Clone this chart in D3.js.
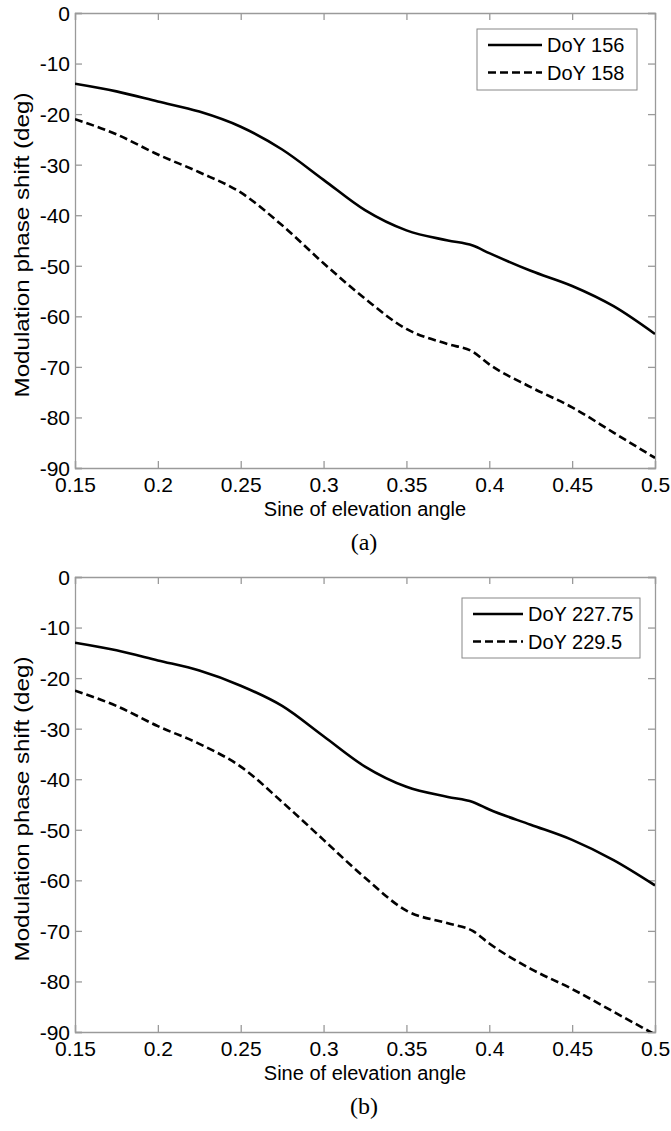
<!DOCTYPE html>
<html><head><meta charset="utf-8">
<script src="https://cdn.jsdelivr.net/npm/d3@7"></script>
<style>body{margin:0;background:#fff}svg{display:block}</style>
</head><body>
<script>
// ---------- data ----------
const xTicks = [0.15, 0.2, 0.25, 0.3, 0.35, 0.4, 0.45, 0.5];
const yTicks = [0, -10, -20, -30, -40, -50, -60, -70, -80, -90];
const sineElev = [0.15, 0.175, 0.2, 0.225, 0.25, 0.275, 0.3, 0.325, 0.35, 0.375, 0.39, 0.4, 0.425, 0.45, 0.475, 0.5];
const doy156   = [-14, -15.5, -17.5, -19.5, -22.5, -27, -33, -39, -43, -45, -46, -47.5, -51, -54, -58, -63.5];
const doy158   = [-21, -24, -28, -31.5, -35.5, -42, -49.5, -56.5, -62.5, -65.5, -67, -69.5, -74, -78, -83, -88];
const doy22775 = [-13, -14.5, -16.5, -18.5, -21.5, -25.5, -31.5, -37.5, -41.5, -43.5, -44.5, -46, -49, -52, -56, -61];
const doy2295  = [-22.5, -25.5, -29.5, -33, -37.5, -44.5, -52, -59.5, -66, -68.5, -70, -72.5, -77.5, -81.5, -86, -90.5];
const panelA = {label: "(a)", names: ["DoY 156", "DoY 158"], series: [doy156, doy158]};
const panelB = {label: "(b)", names: ["DoY 227.75", "DoY 229.5"], series: [doy22775, doy2295]};

// ---------- drawing ----------
const W = 671, H = 1131;
const svg = d3.select("body").append("svg").attr("width", W).attr("height", H);
const font = "Liberation Sans, Arial, sans-serif";
const axisColor = "#9a9a9a";
const fmt = d => String(d);

function drawPanel(p, top, legendBox, idx) {
  const left = 75, right = 655, bottom = top + 455;
  const x = d3.scaleLinear().domain([0.15, 0.5]).range([left, right]);
  const y = d3.scaleLinear().domain([-90, 0]).range([bottom, top]);
  const g = svg.append("g");

  g.append("clipPath").attr("id", "clip" + idx)
    .append("rect").attr("x", left).attr("y", top).attr("width", right - left).attr("height", bottom - top);

  const tl = 7;
  const axB = g.append("g").attr("transform", `translate(0,${bottom})`)
    .call(d3.axisBottom(x).tickValues(xTicks).tickSize(-tl).tickPadding(9).tickFormat(fmt));
  const axT = g.append("g").attr("transform", `translate(0,${top})`)
    .call(d3.axisTop(x).tickValues(xTicks).tickSize(-tl).tickFormat(""));
  const axL = g.append("g").attr("transform", `translate(${left},0)`)
    .call(d3.axisLeft(y).tickValues(yTicks).tickSize(-tl).tickPadding(5).tickFormat(fmt));
  const axR = g.append("g").attr("transform", `translate(${right},0)`)
    .call(d3.axisRight(y).tickValues(yTicks).tickSize(-tl).tickFormat(""));
  [axB, axT, axL, axR].forEach(a => {
    a.select(".domain").attr("stroke", axisColor).attr("stroke-width", 1.3);
    a.selectAll(".tick line").attr("stroke", axisColor).attr("stroke-width", 1.3);
    a.selectAll(".tick text").attr("fill", "#000").style("font-family", font).style("font-size", "21px");
  });
  axB.selectAll(".tick text").attr("dy", "0.71em");
  axL.selectAll(".tick text").attr("dy", "0.35em");

  const line = d3.line().x((d, i) => x(sineElev[i])).y(d => y(d)).curve(d3.curveMonotoneX);
  const dashes = [null, "8,4"];
  p.series.forEach((s, k) => {
    g.append("path").datum(s).attr("d", line).attr("clip-path", `url(#clip${idx})`)
      .attr("fill", "none").attr("stroke", "#000").attr("stroke-width", 2.6)
      .attr("stroke-dasharray", dashes[k]);
  });

  const lb = legendBox;
  g.append("rect").attr("x", lb.x).attr("y", lb.y).attr("width", lb.w).attr("height", lb.h)
    .attr("fill", "#fff").attr("stroke", "#888").attr("stroke-width", 1);
  p.names.forEach((n, k) => {
    const ly = lb.y + 16 + k * 27.5;
    g.append("line").attr("x1", lb.x + 11).attr("x2", lb.x + lb.lineW + 11).attr("y1", ly).attr("y2", ly)
      .attr("stroke", "#000").attr("stroke-width", 2.6).attr("stroke-dasharray", dashes[k]);
    g.append("text").attr("x", lb.x + lb.lineW + 16).attr("y", ly).attr("dy", "0.36em")
      .style("font-family", font).style("font-size", "20px").text(n);
  });

  g.append("text").attr("x", (left + right) / 2).attr("y", bottom + 48)
    .attr("text-anchor", "middle").style("font-family", font).style("font-size", "20px")
    .text("Sine of elevation angle");
  g.append("text").attr("transform", `translate(22,${top + 232}) rotate(-90)`)
    .attr("text-anchor", "middle").attr("dy", "0.35em").style("font-family", font).style("font-size", "21px")
    .attr("textLength", 305).attr("lengthAdjust", "spacingAndGlyphs")
    .text("Modulation phase shift (deg)");
  g.append("text").attr("x", 364).attr("y", bottom + 82)
    .attr("text-anchor", "middle").style("font-family", "Liberation Serif, Times New Roman, serif").style("font-size", "24px")
    .text(p.label);
}

drawPanel(panelA, 13, {x: 477, y: 29, w: 160, h: 61, lineW: 54}, 0);
drawPanel(panelB, 577, {x: 462, y: 598, w: 178, h: 60, lineW: 50}, 1);
</script>
</body></html>
